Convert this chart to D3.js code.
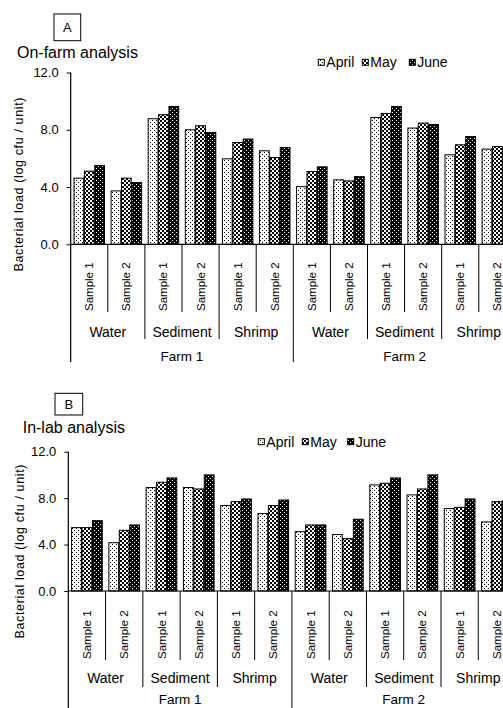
<!DOCTYPE html>
<html><head><meta charset="utf-8">
<script src="https://cdn.jsdelivr.net/npm/d3@7"></script>
<style>
body{margin:0;background:#fff;overflow:hidden}
svg{display:block;font-family:"Liberation Sans",Arial,sans-serif}
</style>
</head><body>
<svg id="c" width="503" height="708"></svg>
<script>
// ---- data ----
const farms = ["Farm 1", "Farm 2"];
const materials = ["Water", "Sediment", "Shrimp"];
const samples = ["Sample 1", "Sample 2"];
const months = ["April", "May", "June"];
const yTickValues = [0, 4, 8, 12];

// values per category: Farm1 (Water S1,S2, Sediment S1,S2, Shrimp S1,S2), Farm2 (same)
const onFarmApril = [4.62, 3.73, 8.77, 8.00, 5.97, 6.53, 4.03, 4.50, 8.86, 8.12, 6.25, 6.65];
const onFarmMay   = [5.11, 4.62, 9.05, 8.28, 7.11, 6.06, 5.08, 4.43, 9.14, 8.47, 6.95, 6.83];
const onFarmJune  = [5.50, 4.31, 9.63, 7.81, 7.35, 6.76, 5.41, 4.73, 9.63, 8.37, 7.53, 6.75];

const inLabApril = [5.46, 4.16, 8.91, 8.91, 7.36, 6.67, 5.11, 4.86, 9.14, 8.28, 7.10, 5.95];
const inLabMay   = [5.46, 5.23, 9.37, 8.79, 7.70, 7.36, 5.69, 4.51, 9.28, 8.79, 7.21, 7.70];
const inLabJune  = [6.06, 5.69, 9.74, 10.00, 7.93, 7.84, 5.69, 6.18, 9.74, 10.00, 7.93, 7.80];

const categories = [];
farms.forEach(f => materials.forEach(m => samples.forEach(s => categories.push(f + "|" + m + "|" + s))));

// ---- drawing ----
const svg = d3.select("#c");
const defs = svg.append("defs");

function makePattern(id, bg, fg, cells) {
  const p = defs.append("pattern").attr("id", id).attr("patternUnits", "userSpaceOnUse")
    .attr("width", 4).attr("height", 4);
  p.append("rect").attr("width", 4).attr("height", 4).attr("fill", bg);
  cells.forEach(c => p.append("rect").attr("x", c[0]).attr("y", c[1]).attr("width", c[2]).attr("height", c[2]).attr("fill", fg));
}
makePattern("p-April", "#fff", "#000", [[0, 0, 1], [2, 2, 1]]);
makePattern("p-May", "#fff", "#000", [[0, 0, 2], [2, 2, 2]]);
makePattern("p-June", "#000", "#fff", [[0, 0, 1], [2, 2, 1]]);

function panel(cfg) {
  const g = svg.append("g");
  const x = d3.scaleBand().domain(categories).range([cfg.x0, cfg.x0 + 12 * cfg.band]).padding(0);
  const x1 = d3.scaleBand().domain(months).range([3.3, cfg.band - 3.3]).paddingInner(0.06);
  const y = d3.scaleLinear().domain([0, 12]).range([cfg.yBase, cfg.yTop]);

  // letter box
  g.append("rect").attr("x", cfg.box[0]).attr("y", cfg.box[1]).attr("width", cfg.box[2]).attr("height", cfg.box[3])
    .attr("fill", "none").attr("stroke", "#000").attr("stroke-width", 1);
  g.append("text").attr("x", cfg.box[0] + cfg.box[2] / 2).attr("y", cfg.box[1] + cfg.box[3] / 2)
    .attr("dy", "0.36em").attr("text-anchor", "middle").attr("font-size", 13).text(cfg.letter);
  // title
  g.append("text").attr("x", cfg.titleX).attr("y", cfg.titleY).attr("font-size", 16).text(cfg.title);

  // legend
  months.forEach((m, i) => {
    const lx = cfg.legendX[i];
    g.append("rect").attr("x", lx).attr("y", cfg.legendY - 3).attr("width", 6).attr("height", 6)
      .attr("fill", "url(#p-" + m + ")").attr("stroke", "#000").attr("stroke-width", 1);
    g.append("text").attr("x", lx + 8).attr("y", cfg.legendY).attr("dy", "0.35em")
      .attr("font-size", 14).text(m);
  });

  // bars
  const series = [cfg.april, cfg.may, cfg.june];
  months.forEach((m, mi) => {
    g.append("g").selectAll("rect").data(series[mi]).join("rect")
      .attr("x", (d, i) => x(categories[i]) + x1(m))
      .attr("y", d => y(d))
      .attr("width", x1.bandwidth())
      .attr("height", d => y(0) - y(d))
      .attr("fill", "url(#p-" + m + ")")
      .attr("stroke", "#000").attr("stroke-width", 1);
  });

  // y axis
  const ax = g.append("g").attr("transform", `translate(${cfg.x0},0)`)
    .call(d3.axisLeft(y).tickValues(yTickValues).tickFormat(d3.format(".1f")).tickSize(4).tickPadding(8));
  ax.select(".domain").remove();
  ax.selectAll("text").attr("font-size", 13).attr("font-family", "Liberation Sans, Arial, sans-serif").attr("fill", "#000");
  ax.selectAll("line").attr("stroke", "#000");
  g.append("line").attr("x1", cfg.x0).attr("x2", cfg.x0).attr("y1", y(12)).attr("y2", cfg.farmBottom)
    .attr("stroke", "#000").attr("stroke-width", 1.2);
  // baseline
  g.append("line").attr("x1", cfg.x0).attr("x2", x.range()[1]).attr("y1", y(0)).attr("y2", y(0))
    .attr("stroke", "#000").attr("stroke-width", 1.2);

  // category separators
  for (let i = 1; i <= 12; i++) {
    const xx = i < 12 ? x(categories[i]) : x.range()[1];
    const bottom = (i % 6 === 0) ? cfg.farmBottom : (i % 2 === 0 ? cfg.matBottom : cfg.sampleBottom);
    g.append("line").attr("x1", xx).attr("x2", xx).attr("y1", y(0)).attr("y2", bottom)
      .attr("stroke", "#000").attr("stroke-width", 1);
  }
  // sample labels
  categories.forEach((c, i) => {
    g.append("text")
      .attr("transform", `translate(${x(c) + x.bandwidth() / 2},${cfg.sampleBottom - 1}) rotate(-90)`)
      .attr("dy", "0.35em").attr("font-size", 11.5).text(samples[i % 2]);
  });
  // material labels
  for (let k = 0; k < 6; k++) {
    const cx = x(categories[2 * k]) + x.bandwidth();
    g.append("text").attr("x", cx).attr("y", cfg.matY).attr("dy", "0.35em").attr("text-anchor", "middle")
      .attr("font-size", 14).text(materials[k % 3]);
  }
  // farm labels
  farms.forEach((f, k) => {
    const cx = x(categories[6 * k]) + 3 * x.bandwidth();
    g.append("text").attr("x", cx).attr("y", cfg.farmY).attr("dy", "0.35em").attr("text-anchor", "middle")
      .attr("font-size", 13.5).text(f);
  });
  // y axis label
  g.append("text").attr("transform", `translate(${cfg.labelX},${cfg.labelY}) rotate(-90)`)
    .attr("dy", "0.35em").attr("text-anchor", "middle").attr("font-size", 12.5)
    .attr("textLength", 174).attr("lengthAdjust", "spacing")
    .text("Bacterial load (log cfu / unit)");
}

panel({
  letter: "A", title: "On-farm analysis",
  april: onFarmApril, may: onFarmMay, june: onFarmJune,
  box: [54, 14, 26.7, 26.7], titleX: 17, titleY: 58.3,
  legendX: [318.3, 362.3, 409.3], legendY: 62.3,
  x0: 70.7, band: 37.1, yBase: 244.3, yTop: 72.5,
  sampleBottom: 312, matBottom: 339, farmBottom: 362, matY: 332, farmY: 356,
  labelX: 19, labelY: 184.5
});
panel({
  letter: "B", title: "In-lab analysis",
  april: inLabApril, may: inLabMay, june: inLabJune,
  box: [55, 393.3, 27.7, 21.7], titleX: 22.7, titleY: 432.5,
  legendX: [258.3, 302.3, 347.7], legendY: 441.7,
  x0: 68.3, band: 37.27, yBase: 591, yTop: 451.7,
  sampleBottom: 660, matBottom: 687, farmBottom: 712, matY: 678, farmY: 699.3,
  labelX: 20, labelY: 551.5
});
</script>
</body></html>
